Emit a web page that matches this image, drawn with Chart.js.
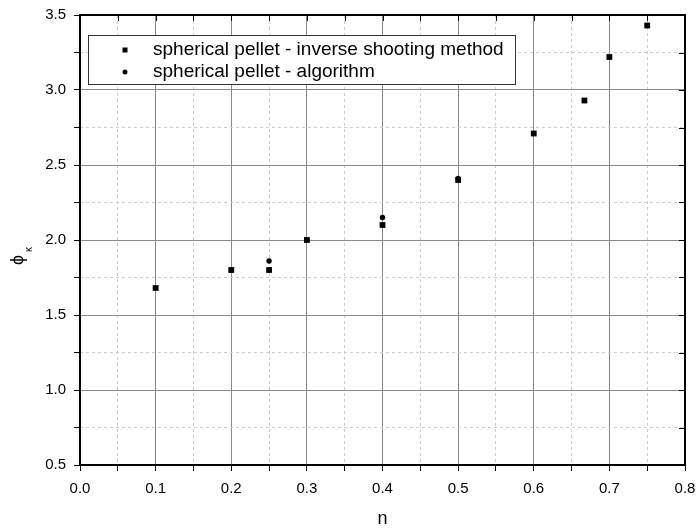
<!DOCTYPE html>
<html>
<head>
<meta charset="utf-8">
<script src="https://cdn.jsdelivr.net/npm/chart.js@4/dist/chart.umd.min.js"></script>
<style>
  html, body { margin: 0; padding: 0; background: #fff; }
  #chart { display: block; }
</style>
</head>
<body>
<canvas id="chart" width="697" height="529"></canvas>
<script>
// data
const nShooting = [0.1, 0.2, 0.25, 0.3, 0.4, 0.5, 0.6, 0.667, 0.7, 0.75];
const phiShooting = [1.68, 1.80, 1.80, 2.0, 2.10, 2.40, 2.71, 2.93, 3.22, 3.43];
const nAlgorithm = [0.25, 0.3, 0.4, 0.5];
const phiAlgorithm = [1.86, 2.0, 2.15, 2.41];
const seriesNames = ["spherical pellet - inverse shooting method", "spherical pellet - algorithm"];

const FONT = "'Liberation Sans', Arial, sans-serif";

const isMajorX = v => Math.round(v * 100) % 10 === 0;
const isMajorY = v => Math.round(v * 100) % 50 === 0;

function toPoints(xs, ys) {
    return xs.map((x, i) => ({ x: x, y: ys[i] }));
}

// frame, inner ticks on top/right, legend box and axis titles
const extras = {
    id: 'extras',
    afterDraw(chart) {
        const ctx = chart.ctx;
        const a = chart.chartArea;
        const xs = chart.scales.x, ys = chart.scales.y;
        ctx.save();
        ctx.strokeStyle = '#000';
        ctx.lineWidth = 1;
        ctx.beginPath();
        xs.ticks.forEach(t => {
            const px = Math.round(xs.getPixelForValue(t.value)) + 0.5;
            ctx.moveTo(px, a.top);
            ctx.lineTo(px, a.top + 6);
        });
        ys.ticks.forEach(t => {
            const py = Math.round(ys.getPixelForValue(t.value)) + 0.5;
            ctx.moveTo(a.right, py);
            ctx.lineTo(a.right - 6, py);
        });
        ctx.stroke();

        ctx.lineWidth = 2;
        ctx.strokeRect(a.left, a.top, a.right - a.left, a.bottom - a.top);

        // legend
        const lx = 88, ly = 35, lw = 427, lh = 49;
        ctx.fillStyle = '#fff';
        ctx.fillRect(lx, ly, lw, lh);
        ctx.lineWidth = 1;
        ctx.strokeStyle = '#333';
        ctx.strokeRect(lx + 0.5, ly + 0.5, lw, lh);
        ctx.fillStyle = '#000';
        ctx.fillRect(125 - 2.5, 50 - 2.5, 5, 5);
        ctx.beginPath();
        ctx.arc(125, 72, 2.5, 0, Math.PI * 2);
        ctx.fill();
        ctx.font = '19px ' + FONT;
        ctx.textBaseline = 'middle';
        ctx.textAlign = 'left';
        ctx.fillText(seriesNames[0], 153, 50);
        ctx.fillText(seriesNames[1], 153, 72);

        // x title
        ctx.font = '18px ' + FONT;
        ctx.textAlign = 'center';
        ctx.fillText('n', (a.left + a.right) / 2, 519);

        // y title: phi with kappa subscript
        ctx.translate(16, (a.top + a.bottom) / 2);
        ctx.rotate(-Math.PI / 2);
        ctx.textAlign = 'left';
        ctx.font = '18px ' + FONT;
        ctx.fillText('\u03D5', -25, 2);
        ctx.font = '10px ' + FONT;
        ctx.fillText('\u03BA', -12, 13);
        ctx.restore();
    }
};

new Chart(document.getElementById('chart'), {
    type: 'scatter',
    data: {
        datasets: [
            {
                label: seriesNames[0],
                data: toPoints(nShooting, phiShooting),
                pointStyle: 'rect',
                pointRadius: 4.1,
                backgroundColor: '#000',
                borderColor: '#000',
                borderWidth: 0
            },
            {
                label: seriesNames[1],
                data: toPoints(nAlgorithm, phiAlgorithm),
                pointStyle: 'circle',
                pointRadius: 2.7,
                backgroundColor: '#000',
                borderColor: '#000',
                borderWidth: 0
            }
        ]
    },
    options: {
        responsive: false,
        animation: false,
        devicePixelRatio: 1,
        layout: { padding: { left: 0, top: 15, right: 12, bottom: 0 } },
        plugins: {
            legend: { display: false },
            tooltip: { enabled: false }
        },
        scales: {
            x: {
                type: 'linear',
                min: 0,
                max: 0.8,
                afterFit: s => { s.height = 64; s.paddingRight = 0; s.paddingLeft = 0; },
                ticks: {
                    stepSize: 0.05,
                    autoSkip: false,
                    maxRotation: 0,
                    padding: 9,
                    color: '#000',
                    font: { family: FONT, size: 15 },
                    callback: v => isMajorX(v) ? v.toFixed(1) : ''
                },
                grid: {
                    color: c => c.tick && isMajorX(c.tick.value) ? '#8a8a8a' : '#cccccc',
                    lineWidth: 1,
                    tickColor: '#000',
                    tickLength: 6
                },
                border: {
                    display: false,
                    dash: c => c.tick && !isMajorX(c.tick.value) ? [3, 3] : []
                }
            },
            y: {
                type: 'linear',
                min: 0.5,
                max: 3.5,
                afterFit: s => { s.width = 80; s.paddingTop = 0; s.paddingBottom = 0; },
                ticks: {
                    stepSize: 0.25,
                    autoSkip: false,
                    padding: 8,
                    color: '#000',
                    font: { family: FONT, size: 15 },
                    callback: v => isMajorY(v) ? v.toFixed(1) : ''
                },
                grid: {
                    color: c => c.tick && isMajorY(c.tick.value) ? '#8a8a8a' : '#cccccc',
                    lineWidth: 1,
                    tickColor: '#000',
                    tickLength: 6
                },
                border: {
                    display: false,
                    dash: c => c.tick && !isMajorY(c.tick.value) ? [3, 3] : []
                }
            }
        }
    },
    plugins: [extras]
});
</script>
</body>
</html>
